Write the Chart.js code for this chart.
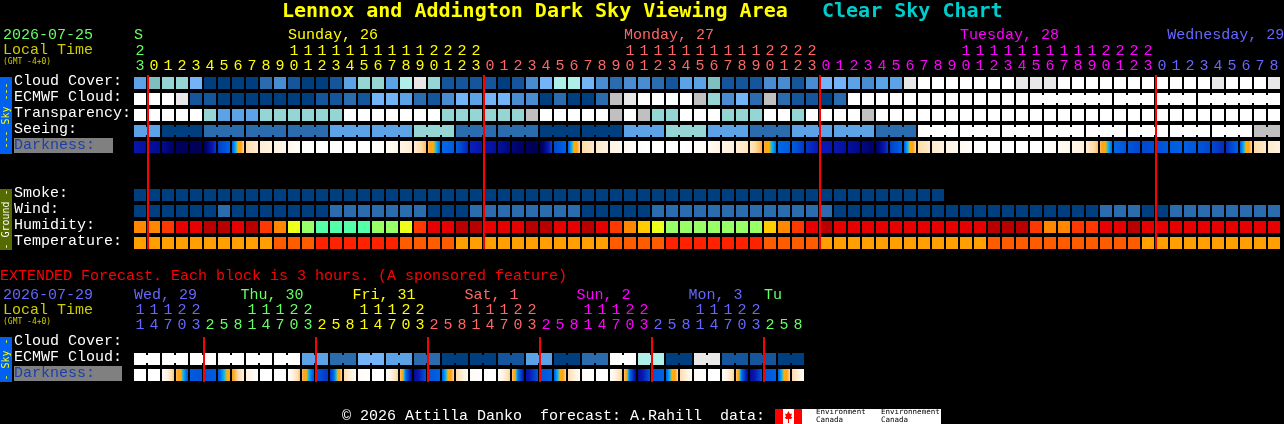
<!DOCTYPE html>
<html>
<head>
<meta charset="utf-8">
<title>Clear Sky Chart</title>
<script src="https://cdn.jsdelivr.net/npm/chart.js@4"></script>
<style>
  html, body { margin: 0; padding: 0; background: #000; overflow: hidden; }
  canvas { display: block; }
</style>
</head>
<body>
<canvas id="csc" width="1284" height="424"></canvas>
<script>
const MONO = '"Liberation Mono", monospace';
const MONO_BOLD = '"DejaVu Sans Mono", monospace';

// hour columns of the main chart
const hours = [23,
  0,1,2,3,4,5,6,7,8,9,10,11,12,13,14,15,16,17,18,19,20,21,22,23,
  0,1,2,3,4,5,6,7,8,9,10,11,12,13,14,15,16,17,18,19,20,21,22,23,
  0,1,2,3,4,5,6,7,8,9,10,11,12,13,14,15,16,17,18,19,20,21,22,23,
  0,1,2,3,4,5,6,7,8];
const extHours = [11,14,17,20,23,
  2,5,8,11,14,17,20,23, 2,5,8,11,14,17,20,23, 2,5,8,11,14,17,20,23,
  2,5,8,11,14,17,20,23, 2,5,8,11,14,17,20,23, 2,5,8];

const dayNames = ['S', 'Sunday, 26', 'Monday, 27', 'Tuesday, 28', 'Wednesday, 29'];
const dayCols = [0, 11, 35, 59, 73.8];
const dayColors = ['#66ff66', '#ffff00', '#ff6666', '#ff00ff', '#6666ff'];
const dayFirstCol = [0, 1, 25, 49, 73];

const extDayNames = ['Wed, 29', 'Thu, 30', 'Fri, 31', 'Sat, 1', 'Sun, 2', 'Mon, 3', 'Tu'];
const extDayCols = [0, 7.6, 15.6, 23.6, 31.6, 39.6, 45];
const extDayColors = ['#6666ff', '#66ff66', '#ffff00', '#ff6666', '#ff00ff', '#6666ff', '#66ff66'];
const extDayFirstCol = [0, 5, 13, 21, 29, 37, 45];

const midnightCols = [1, 25, 49, 73];
const extMidnightCols = [5, 13, 21, 29, 37, 45];

const rowLabels = ['Cloud Cover:', 'ECMWF Cloud:', 'Transparency:', 'Seeing:', 'Darkness:', '', '',
  'Smoke:', 'Wind:', 'Humidity:', 'Temperature:', '', '', '', '', '',
  'Cloud Cover:', 'ECMWF Cloud:', 'Darkness:'];

// sky levels: 0 clear/dark blue .. 10 white, 11 grey (poor/unknown)
const skyColors = ['#003f7f', '#14559b', '#2a6cad', '#4a8cd2', '#5ba2e6', '#73b4f8',
  '#7fbfbf', '#95d5d3', '#aeefea', '#e8e8e8', '#ffffff', '#c0c0c0'];
const humidityColors = ['#b80000', '#e60000', '#ff3800', '#ff8800', '#ffcc00', '#eeff1a', '#99ff66', '#55ffaa'];
const temperatureColors = ['#ff2200', '#ff5c00', '#ffa000'];

const cloudCover = [4,6,7,7,5,0,0,0,0,2,3,1,0,0,1,4,7,7,4,8,9,
  7,1,1,1,1,0,1,3,5,8,8,5,3,2,3,3,2,1,4,4,6,1,1,1,3,3,1,3,5,5,4,
  3,4,4,9,10,10,10,10,10,10,10,9,9,9,10,10,10,10,10,10,10,10,10,10,10,9,10,10,10,9];
const ecmwf = [10,10,10,9,1,1,0,0,0,0,0,0,0,1,1,2,1,5,5,4,2,
  1,3,5,4,5,5,3,3,0,2,0,0,2,11,9,10,10,10,10,11,7,3,5,2,11,2,1,1,0,2,
  10,10,10,10,10,10,10,10,10,10,10,10,10,10,10,10,10,10,10,10,10,10,10,10,10,10,10,10,10,10,10];
const ecmwfJoins = [64,65,66,67,68, 70,71, 73,74, 76,77,78,79,80];
const transparency = [10,10,10,10,10,7,4,4,4,7,7,7,7,7,7,10,10,10,10,10,10,
  10,7,7,7,7,7,7,11,10,10,10,10,10,11,10,11,7,7,10,10,10,7,7,7,10,10,7,10,10,10,10,
  11,10,10,10,10,10,10,10,10,10,10,10,10,10,10,10,10,10,10,10,10,10,10,10,10,10,10,10,10,10];
const seeing = [4,4, 0,0,0, 2,2,2, 2,2,2, 2,2,2, 4,4,4, 4,4,4, 7,7,7, 2,2,2, 2,2,2, 0,0,0, 0,0,0,
  4,4,4, 7,7,7, 4,4,4, 2,2,2, 4,4,4, 4,4,4, 2,2,2,
  10,10,10, 10,10,10, 10,10,10, 10,10,10, 10,10,10, 10,10,10, 10,10,10, 10,10,10, 11,11];
const seeingJoins = [0, 2,3, 5,6, 8,9, 11,12, 14,15, 17,18, 20,21, 23,24, 26,27, 29,30, 32,33,
  35,36, 38,39, 41,42, 44,45, 47,48, 50,51, 53,54, 56,57, 59,60, 62,63, 65,66, 68,69, 71,72, 74,75, 77,78, 80];
// darkness is read at the edge of every cell, so one value more than cells
const darknessEdges = [7.2,7.6,8,9,9.2,9.3,6.2,5.2,2,1.2,1,.6,.2,0,0,0,0,0,.2,.8,1.3,2.4,
  5,5.4,6.8,7.2,7.6,8.4,9,9.6,6,5.2,2,1.4,1,.5,.1,0,0,0,.1,.4,.8,1.2,1.6,2.6,
  5,5.4,6.4,7,7.1,7.6,8.2,9,6.2,5.2,2,1.4,1,.5,.2,0,0,0,0,0,.3,.7,1.2,2.4,
  5,5.6,6,5.8,5.4,5.2,5.6,6,6.6,5.2,2,1.4,1];

const smoke = [0,0,0,0,0,0,0,0,0,0,0,0,0,0,0,0,0,0,0,0,0,0,0,0,0,0,0,0,0,
  0,0,0,0,0,0,0,0,0,0,0,0,0,0,0,0,0,0,0,0,0,0,0,0,0,0,0,0,0];
const wind = [0,0,0,0,0,0,2,0,0,0,0,0,0,0,2,2,2,2,2,2,2,
  0,0,0,2,2,2,2,2,2,2,2,0,0,0,0,0,2,2,2,2,2,2,2,2,2,2,2,2,2,0,0,
  0,0,0,0,0,0,0,0,0,0,0,0,0,0,0,0,0,2,2,2,0,0,2,2,2,2,2,2,2,2];
const humidity = [3,3,2,1,1,0,0,1,0,2,3,5,6,7,7,7,7,6,6,5,2,
  1,1,0,0,1,1,1,0,0,1,1,0,1,2,3,4,5,6,6,6,6,6,6,6,4,3,2,1,0,1,1,
  1,1,1,1,1,1,1,1,1,0,0,0,2,3,3,2,2,1,1,0,1,1,1,1,1,1,1,1,1,1];
const temperature = [2,2,2,2,2,2,2,2,2,2,1,1,1,0,0,0,0,0,0,1,1,
  1,1,2,2,2,2,2,2,2,2,2,2,2,1,1,1,1,0,0,0,0,0,0,0,1,1,1,1,2,2,2,
  2,2,2,2,2,2,2,2,2,1,1,1,1,1,1,1,1,1,1,1,2,2,2,2,2,2,2,2,2,2];

const extEcmwf = [10,10, 10,10, 10,10, 10,10, 10,10, 10,10, 4,4, 2,2, 5,5, 4,4, 2,2,
  0,0, 0,0, 1,1, 4,4, 0,0, 2,2, 10,10, 8,8, 0,0, 9,9, 1,1, 1,1, 0,0];
const extEcmwfJoins = [0,2,4,6,8,10,12,14,16,18,20,22,24,26,28,30,32,34,36,38,40,42,44,46];
const extDarknessEdges = [0,0,0,2.4,5.4,5.6,5.4,3,1,0,0,0,2.4,5.6,6.4,2,.3,0,0,2.2,8,5.6,5.2,2,.4,0,0,
  2.2,7.5,5.6,5.2,2,.3,0,0,2.2,8,5.6,5.2,2,.3,0,0,2.2,8,5.6,5.2,2,.3];

// darkness colour ramp
const rampLevels = [0, 1, 2, 2.8, 3.6, 4.2, 5, 6, 7, 8, 9, 10];
const rampColors = ['#ffffff', '#fff2e0', '#ffdca8', '#ffa020', '#ffb000', '#00b8ff', '#0068e8',
  '#0048d0', '#0a18b4', '#000c90', '#000060', '#000048'];

// the extended rows sit a quarter row lower than the 16px grid above them
function rowPos(row) {
  return row >= 16 ? row + 0.25 : row;
}

function rampAt(level) {
  for (let i = 0; i < rampLevels.length - 1; i++) {
    if (level <= rampLevels[i + 1]) {
      const t = (level - rampLevels[i]) / (rampLevels[i + 1] - rampLevels[i]);
      const a = parseInt(rampColors[i].slice(1), 16);
      const b = parseInt(rampColors[i + 1].slice(1), 16);
      const mix = s => Math.round(((a >> s) & 255) * (1 - t) + ((b >> s) & 255) * t);
      return `rgb(${mix(16)},${mix(8)},${mix(0)})`;
    }
  }
  return rampColors[rampColors.length - 1];
}

function darknessFill(edges) {
  return ctx => {
    const i = ctx.dataIndex;
    const x = ctx.chart.scales.x.getPixelForValue(i);
    if (!Number.isFinite(x)) return '#000';
    const g = ctx.chart.ctx.createLinearGradient(x - 6, 0, x + 6, 0);
    const from = edges[i];
    const to = edges[i + 1];
    for (let s = 0; s <= 12; s++) {
      g.addColorStop(s / 12, rampAt(from + (to - from) * s / 12));
    }
    return g;
  };
}

function cellBars(label, row, values, palette) {
  const p = rowPos(row);
  return {
    label,
    data: values.map(() => [p + 0.125, p + 0.875]),
    backgroundColor: values.map(v => palette[v]),
    grouped: false,
    barThickness: 12,
    inflateAmount: 0,
    borderWidth: 0,
  };
}

function darknessBars(label, row, edges) {
  const p = rowPos(row);
  return {
    label,
    data: edges.slice(1).map(() => [p + 0.125, p + 0.875]),
    backgroundColor: darknessFill(edges),
    grouped: false,
    barThickness: 12,
    inflateAmount: 0,
    borderWidth: 0,
  };
}

// little bridge across the gap between two cells of one forecast block
function joinBars(label, row, joins, values, palette) {
  const p = rowPos(row);
  return {
    label,
    xAxisID: 'xJoin',
    data: joins.map(c => ({ x: c + 0.5, y: [p + 0.25, p + 0.75] })),
    backgroundColor: joins.map(c => palette[values[c]]),
    grouped: false,
    barThickness: 2,
    inflateAmount: 0,
    borderWidth: 0,
  };
}

const datasets = [
  cellBars('Cloud Cover', 0, cloudCover, skyColors),
  cellBars('ECMWF Cloud', 1, ecmwf, skyColors),
  joinBars('ECMWF join', 1, ecmwfJoins, ecmwf, skyColors),
  cellBars('Transparency', 2, transparency, skyColors),
  cellBars('Seeing', 3, seeing, skyColors),
  joinBars('Seeing join', 3, seeingJoins, seeing, skyColors),
  darknessBars('Darkness', 4, darknessEdges),
  cellBars('Smoke', 7, smoke, skyColors),
  cellBars('Wind', 8, wind, skyColors),
  cellBars('Humidity', 9, humidity, humidityColors),
  cellBars('Temperature', 10, temperature, temperatureColors),
  cellBars('Extended ECMWF', 17, extEcmwf, skyColors),
  joinBars('Extended join', 17, extEcmwfJoins, extEcmwf, skyColors),
  darknessBars('Extended Darkness', 18, extDarknessEdges),
];

function tickLines(h) {
  return [h >= 10 ? String(Math.floor(h / 10)) : ' ', String(h % 10)];
}

function colorFor(index, firstCols, colors) {
  let c = colors[0];
  firstCols.forEach((f, i) => { if (index >= f) c = colors[i]; });
  return c;
}

function noPadding(s) {
  s.paddingLeft = 0;
  s.paddingRight = 0;
  s.paddingTop = 0;
  s.paddingBottom = 0;
}

function text(ctx, str, x, y, color, font, align) {
  ctx.fillStyle = color;
  ctx.font = font || `15px ${MONO}`;
  ctx.textAlign = align || 'left';
  ctx.textBaseline = 'middle';
  ctx.fillText(str, x, y);
}

function sideBar(ctx, y0, y1, color, label, labelColor) {
  ctx.fillStyle = color;
  ctx.fillRect(0, y0, 12, y1 - y0);
  ctx.save();
  ctx.translate(6, (y0 + y1) / 2);
  ctx.rotate(-Math.PI / 2);
  text(ctx, label, 0, 0, labelColor, `10px ${MONO_BOLD}`, 'center');
  ctx.restore();
}

function logo(ctx) {
  ctx.fillStyle = '#fff';
  ctx.fillRect(775, 409, 166, 15);
  ctx.fillStyle = '#ff0000';
  ctx.fillRect(775, 409, 8, 15);
  ctx.fillRect(794, 409, 8, 15);
  ctx.beginPath();
  const leaf = [[788.5,411],[790,414],[792,413.5],[791,417],[792.5,417],[791,419],[789,419],[789,423],[788,423],[788,419],[786,419],[784.5,417],[786,417],[785,413.5],[787,414]];
  leaf.forEach((p, i) => (i ? ctx.lineTo(p[0], p[1]) : ctx.moveTo(p[0], p[1])));
  ctx.closePath();
  ctx.fill();
  const small = `7.5px ${MONO_BOLD}`;
  text(ctx, 'Environment', 816, 412.5, '#000', small);
  text(ctx, 'Canada', 816, 420.5, '#000', small);
  text(ctx, 'Environnement', 881, 412.5, '#000', small);
  text(ctx, 'Canada', 881, 420.5, '#000', small);
}

const backdrop = {
  id: 'backdrop',
  beforeDraw(chart) {
    const ctx = chart.ctx;
    ctx.fillStyle = '#000';
    ctx.fillRect(0, 0, chart.width, chart.height);
    const y = chart.scales.y;
    // grey plates behind the Darkness labels
    ctx.fillStyle = '#808080';
    ctx.fillRect(14, y.getPixelForValue(rowPos(4)) - 1, 99, 15);
    ctx.fillRect(14, y.getPixelForValue(rowPos(18)) - 1, 108, 15);
  },
};

const annotations = {
  id: 'annotations',
  afterDraw(chart) {
    const ctx = chart.ctx;
    const x = chart.scales.x;
    const y = chart.scales.y;

    // midnight lines sit in the gap before the first column of the day
    ctx.fillStyle = '#ff0000';
    midnightCols.forEach(c => {
      const top = y.getPixelForValue(rowPos(0));
      ctx.fillRect(Math.round(x.getPixelForValue(c) - 7), top, 2, y.getPixelForValue(rowPos(10) + 1) - top - 2);
    });
    extMidnightCols.forEach(c => {
      const top = y.getPixelForValue(rowPos(16)) + 2;
      ctx.fillRect(Math.round(x.getPixelForValue(c) - 7), top, 2, y.getPixelForValue(rowPos(18) + 1) - top - 1);
    });

    sideBar(ctx, 77, 154, '#0060f0', '--- Sky ---', '#ffff00');
    sideBar(ctx, 189, 250, '#556b00', '- Ground -', '#ffffff');
    sideBar(ctx, 337, 382, '#0060f0', '- Sky -', '#ffff00');

    const bold = `bold 20px ${MONO_BOLD}`;
    text(ctx, 'Lennox and Addington Dark Sky Viewing Area', 282, 12, '#ffff00', bold);
    text(ctx, 'Clear Sky Chart', 822, 12, '#00cccc', bold);

    text(ctx, '2026-07-25', 3, 35, '#66ff66');
    text(ctx, 'Local Time', 3, 50, '#cccc00');
    text(ctx, '(GMT -4+0)', 3, 62, '#cccc00', `8px ${MONO_BOLD}`);
    dayNames.forEach((d, i) => {
      text(ctx, d, x.getPixelForValue(dayCols[i]) - 6, 35, dayColors[i]);
    });

    text(ctx, 'EXTENDED Forecast. Each block is 3 hours. (A sponsored feature)', 0, 276, '#ff0000');
    text(ctx, '2026-07-29', 3, 295, '#6666ff');
    text(ctx, 'Local Time', 3, 310, '#cccc00');
    text(ctx, '(GMT -4+0)', 3, 322, '#cccc00', `8px ${MONO_BOLD}`);
    extDayNames.forEach((d, i) => {
      text(ctx, d, x.getPixelForValue(extDayCols[i]) - 6, 295, extDayColors[i]);
    });

    text(ctx, '\u00a9 2026 Attilla Danko  forecast: A.Rahill  data:', 342, 416, '#ffffff');
    logo(ctx);
  },
};

const colIndex = hours.map((h, i) => i);

new Chart(document.getElementById('csc'), {
  type: 'bar',
  data: { labels: colIndex, datasets },
  plugins: [backdrop, annotations],
  options: {
    responsive: false,
    animation: false,
    devicePixelRatio: 1,
    layout: { padding: { left: 14, right: 3, top: 0, bottom: 13 } },
    plugins: { legend: { display: false }, title: { display: false }, tooltip: { enabled: false } },
    datasets: { bar: { categoryPercentage: 1, barPercentage: 1 } },
    scales: {
      x: {
        type: 'category',
        position: 'top',
        labels: hours.map(tickLines),
        offset: true,
        grid: { display: false, drawTicks: false },
        border: { display: false },
        afterFit: s => { s.height = 75; noPadding(s); },
        ticks: {
          autoSkip: false,
          maxRotation: 0,
          minRotation: 0,
          padding: 1,
          font: { family: MONO, size: 15, lineHeight: 1 },
          color: ctx => colorFor(ctx.index, dayFirstCol, dayColors),
        },
      },
      xExt: {
        type: 'category',
        position: { y: 14.2 },
        labels: hours.map((h, i) => (i < extHours.length ? tickLines(extHours[i]) : '')),
        offset: true,
        grid: { display: false, drawTicks: false },
        border: { display: false },
        afterFit: noPadding,
        ticks: {
          autoSkip: false,
          maxRotation: 0,
          minRotation: 0,
          padding: 0,
          font: { family: MONO, size: 15, lineHeight: 1 },
          color: ctx => colorFor(ctx.index, extDayFirstCol, extDayColors),
        },
      },
      xJoin: {
        type: 'linear',
        display: false,
        offset: false,
        min: -0.5,
        max: 81.5,
      },
      y: {
        type: 'linear',
        reverse: true,
        min: 0,
        max: 21,
        grid: { display: false, drawTicks: false },
        border: { display: false },
        afterFit: s => { s.width = 119; noPadding(s); },
        afterBuildTicks: s => {
          s.ticks = rowLabels.map((l, r) => r).filter(r => rowLabels[r]).map(r => ({ value: rowPos(r) + 0.5 }));
        },
        ticks: {
          autoSkip: false,
          crossAlign: 'far',
          padding: 0,
          labelOffset: -2,
          font: { family: MONO, size: 15 },
          callback: v => rowLabels[Math.floor(v)],
          color: ctx => (String(rowLabels[Math.floor(ctx.tick.value)]).startsWith('Darkness') ? '#1c3fa8' : '#ffffff'),
        },
      },
    },
  },
});
</script>
</body>
</html>
